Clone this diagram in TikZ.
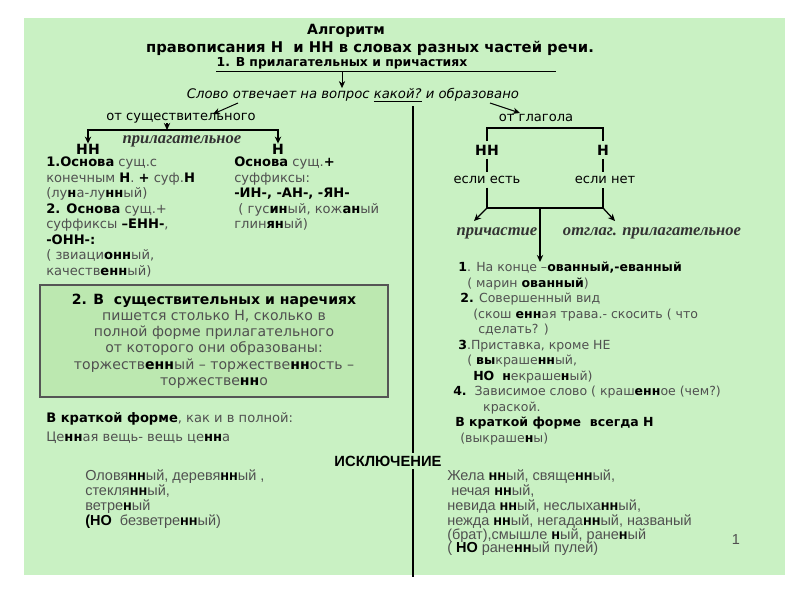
\documentclass[tikz,border=0pt]{standalone}
\usepackage{fontspec}
\setmainfont{DejaVu Sans}
\newfontfamily\narrowfont{Liberation Sans}
\newfontfamily\curlyfont{Liberation Serif}
\usepackage{xcolor}
\usetikzlibrary{positioning,arrows.meta}
\definecolor{sheet}{HTML}{C9F1C3}
\definecolor{boxbg}{HTML}{BCE8B0}
\definecolor{boxline}{HTML}{555555}
\definecolor{ink}{HTML}{505050}
\newcommand{\hh}[1]{{\bfseries\color{black}#1}}

\begin{document}
\begin{tikzpicture}[x=0.025cm,y=-0.025cm,>={Stealth[length=5pt,width=4.5pt]},
 ln/.style={draw=black,line width=0.9pt},
 txt/.style={inner sep=0pt,text=ink,align=left,font=\fontsize{9.3}{11}\selectfont},
 hdr/.style={inner sep=0pt,text=black,font=\bfseries\fontsize{10.5}{12}\selectfont},
 fork/.style={inner sep=2.5pt,text=black,font=\bfseries\fontsize{10}{12}\selectfont},
 curly/.style={inner sep=1pt,text=black!80,font=\curlyfont\bfseries\itshape\fontsize{11.8}{12}\selectfont},
 exc/.style={inner sep=0pt,text=ink,align=left,font=\narrowfont\fontsize{10.3}{10.8}\selectfont},
 rulebox/.style={draw=boxline,fill=boxbg,line width=1.2pt,align=center,text=ink,minimum width=8.7cm,minimum height=2.8cm,font=\fontsize{10}{11.5}\selectfont}]
\fill[white] (0,0) rectangle (800,600);
\fill[sheet] (24,18) rectangle (785,575);
\useasboundingbox (0,0) rectangle (800,600);
% title
\node[hdr,font=\bfseries\fontsize{10}{12}\selectfont] (alg) at (346,31) {Алгоритм};
\node[hdr] (title) at (370,48) {правописания Н\ \ и НН в словах разных частей речи.};
\node[hdr,font=\bfseries\fontsize{8.8}{10}\selectfont] (part1) at (342,63) {1. В прилагательных и причастиях};
\coordinate (ulend) at (556,70);
\draw[line width=0.6pt] ([yshift=-1.5pt]part1.south west) -- ([yshift=-1.5pt]part1.south west -| ulend);
\node[txt,text=black,font=\itshape\fontsize{9.4}{10}\selectfont] (q) at (353,95) {Слово отвечает на вопрос \underline{какой?} и образовано};
\draw[->,line width=0.6pt] ([yshift=-1.5pt]part1.south) -- (part1.south |- q.north);
\node[txt,text=black] (noun) at (181,118) {от существительного};
\node[txt,text=black] (verb) at (536,118) {от глагола};
\coordinate (qa) at (238,103); \coordinate (na) at (213,114);
\coordinate (qb) at (490,103); \coordinate (va) at (520,113);
\draw[->,line width=0.7pt] (qa) -- (na);
\draw[->,line width=0.7pt] (qb) -- (va);
% divider
\node[hdr,inner sep=2pt,font=\narrowfont\bfseries\fontsize{10.5}{12}\selectfont] (excl) at (388,461) {ИСКЛЮЧЕНИЕ};
\coordinate (dtop) at (413,106); \coordinate (dbot) at (413,577);
\draw[ln] (dtop) -- (dtop |- excl.north);
\draw[ln] (dtop |- excl.south) -- (dbot);
% adjectives from nouns
\coordinate (lbr) at (167,130);
\node[fork,inner sep=0pt] (nnL) at (88,149) {НН};
\node[fork,inner sep=0pt] (nL) at (278,149) {Н};
\node[curly] (adj) at (182,141) {прилагательное};
\draw[ln,->] (lbr) -| (nnL.north);
\draw[ln,->] (lbr) -| (nL.north);
\draw[ln,->] (noun.south -| lbr) -- (lbr);
\node[txt,anchor=north west] (ncol) at (46,157) {\hh{1.Основа} сущ.с\\
конечным \hh{Н}. \hh{+} суф.\hh{Н}\\
(лу\hh{н}а-лу\hh{нн}ый)\\
\hh{2. Основа} сущ.+\\
суффиксы \hh{–ЕНН-},\\
\hh{-ОНН-:}\\
( звиаци\hh{онн}ый,\\
качеств\hh{енн}ый)};
\node[txt,anchor=north west] (ncol2) at (234,157) {\hh{Основа} сущ.\hh{+}\\
суффиксы:\\
\hh{-ИН-, -АН-, -ЯН-}\\
\ ( гус\hh{ин}ый, кож\hh{ан}ый\\
глин\hh{ян}ый)};
% nouns and adverbs
\node[rulebox] (rule2) at (214,341) {\hh{2. В\ \ существительных и наречиях}\\
пишется столько Н, сколько в\\
полной форме прилагательного\\
от которого они образованы:\\
торжеств\hh{енн}ый -- торжестве\hh{нн}ость --\\
торжестве\hh{нн}о};
\node[txt,anchor=north west] (short) at (46,412) {\hh{В краткой форме}, как и в полной:\\[3pt]
Це\hh{нн}ая вещь- вещь це\hh{нн}а};
% participles
\coordinate (rtop) at (545,128);
\node[fork] (vNN) at (487,150) {НН};
\node[fork] (vN) at (603,150) {Н};
\draw[ln] (vNN.north) -- (vNN.north |- rtop) -- (vN.north |- rtop) -- (vN.north);
\node[fork,font=\fontsize{9.3}{11}\selectfont] (yes) at (487,180) {если есть};
\node[fork,font=\fontsize{9.3}{11}\selectfont] (no) at (605,180) {если нет};
\draw[ln] (vNN.south) -- (yes.north);
\draw[ln] (vN.south) -- (vN.south |- no.north);
\coordinate (rjoin) at (540,208);
\draw[ln] (yes.south) -- (yes.south |- rjoin) -- (vN.south |- rjoin) -- (vN.south |- no.south);
\node[curly] (prt) at (497,233) {причастие};
\node[curly] (otg) at (652,233) {отглаг. прилагательное};
\coordinate (pa) at (474,221); \coordinate (oa) at (615,221);
\draw[ln,->] (yes.south |- rjoin) -- (pa);
\draw[ln,->] (vN.south |- rjoin) -- (oa);
\node[txt,anchor=north west,font=\fontsize{8.9}{11}\selectfont] (vcol) at (453,262) {\hspace{3.6pt}\hh{1}. На конце –\hh{ованный,-еванный}\\
\hspace{10pt}( марин \hh{ованный})\\
\hspace{5pt}\hh{2.} Совершенный вид\\
\hspace{14.2pt}(скош \hh{енн}ая трава.- скосить ( что\\
\hspace{17.8pt}сделать? )\\
\hspace{3.6pt}\hh{3}.Приставка, кроме НЕ\\
\hspace{10pt}( \hh{вы}краше\hh{нн}ый,\\
\hspace{14.2pt}\hh{НО}\ \ \hh{н}екраше\hh{н}ый)\\
\hh{4.}\ \ Зависимое слово ( краш\hh{енн}ое (чем?)\\
\hspace{21.3pt}краской.\\
\hspace{1.4pt}\hh{В краткой форме\ \ всегда Н}\\
\hspace{5pt}(выкраше\hh{н}ы)};
\draw[ln,->] (rjoin) -- (rjoin |- vcol.north);
% exceptions
\node[exc,anchor=north west] (exl) at (85,469) {Оловя\hh{нн}ый, деревя\hh{нн}ый ,\\
стекля\hh{нн}ый,\\
ветре\hh{н}ый\\
\hh{(НО}\ \ безветре\hh{нн}ый)};
\node[exc,anchor=north west] (exr) at (447,469) {Жела \hh{нн}ый, свяще\hh{нн}ый,\\
\ нечая \hh{нн}ый,\\
невида \hh{нн}ый, неслыха\hh{нн}ый,\\
нежда \hh{нн}ый, негада\hh{нн}ый, названый\\[-1.2pt]
(брат),смышле \hh{н}ый, ране\hh{н}ый\\[-1.2pt]
( \hh{НО} ране\hh{нн}ый пулей)};
\node[exc] (page) at (736,540) {1};
\end{tikzpicture}
\end{document}
